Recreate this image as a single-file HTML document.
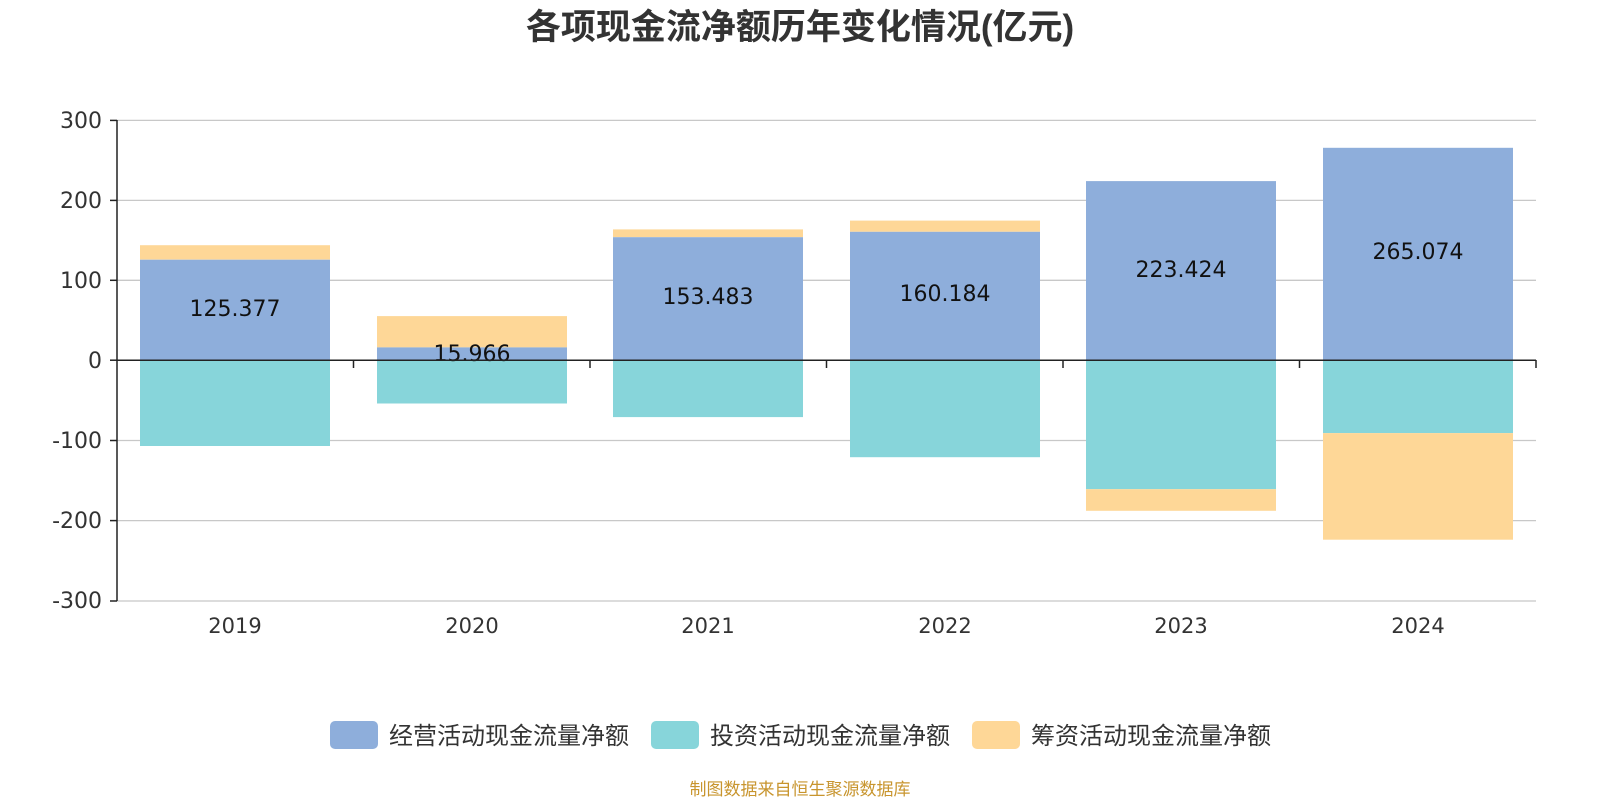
<!DOCTYPE html>
<html><head><meta charset="utf-8"><style>body{margin:0;background:#fff}svg{display:block}text{font-family:"Liberation Sans","Noto Sans CJK SC",sans-serif}.n text{font-family:"DejaVu Sans",sans-serif}</style></head>
<body>
<svg width="1600" height="800" xmlns="http://www.w3.org/2000/svg">
<text x="800" y="39" text-anchor="middle" font-size="35" font-weight="bold" fill="#333">各项现金流净额历年变化情况(亿元)</text>
<g stroke="#c8c8c8" stroke-width="1.3">
<line x1="117" y1="120.4" x2="1536" y2="120.4"/>
<line x1="117" y1="200.4" x2="1536" y2="200.4"/>
<line x1="117" y1="280.3" x2="1536" y2="280.3"/>
<line x1="117" y1="440.5" x2="1536" y2="440.5"/>
<line x1="117" y1="520.6" x2="1536" y2="520.6"/>
<line x1="117" y1="601" x2="1536" y2="601"/>
</g>
<g class="n" font-size="22" fill="#333" text-anchor="end">
<text x="102" y="128">300</text><text x="102" y="208">200</text><text x="102" y="288">100</text>
<text x="102" y="368">0</text><text x="102" y="448">-100</text><text x="102" y="528">-200</text><text x="102" y="608">-300</text>
</g>
<g>
<rect x="140" y="245.2" width="190" height="14.4" fill="#fed797"/>
<rect x="140" y="259.7" width="190" height="100.5" fill="#8eaedb"/>
<rect x="140" y="360.2" width="190" height="85.8" fill="#87d5da"/>
<rect x="377" y="316.1" width="190" height="31.3" fill="#fed797"/>
<rect x="377" y="347.4" width="190" height="12.8" fill="#8eaedb"/>
<rect x="377" y="360.2" width="190" height="43.3" fill="#87d5da"/>
<rect x="613" y="229.4" width="190" height="7.8" fill="#fed797"/>
<rect x="613" y="237.2" width="190" height="123" fill="#8eaedb"/>
<rect x="613" y="360.2" width="190" height="56.9" fill="#87d5da"/>
<rect x="850" y="220.6" width="190" height="11.2" fill="#fed797"/>
<rect x="850" y="231.8" width="190" height="128.4" fill="#8eaedb"/>
<rect x="850" y="360.2" width="190" height="97" fill="#87d5da"/>
<rect x="1086" y="181.1" width="190" height="179.1" fill="#8eaedb"/>
<rect x="1086" y="360.2" width="190" height="129" fill="#87d5da"/>
<rect x="1086" y="489.2" width="190" height="21.6" fill="#fed797"/>
<rect x="1323" y="147.8" width="190" height="212.4" fill="#8eaedb"/>
<rect x="1323" y="360.2" width="190" height="72.9" fill="#87d5da"/>
<rect x="1323" y="433.1" width="190" height="106.6" fill="#fed797"/>
</g>
<g class="n" font-size="22" fill="#111" text-anchor="middle">
<text x="235" y="316">125.377</text>
<text x="472" y="361">15.966</text>
<text x="708" y="304">153.483</text>
<text x="945" y="301">160.184</text>
<text x="1181" y="277">223.424</text>
<text x="1418" y="259">265.074</text>
</g>
<g stroke="#222" stroke-width="1.5">
<line x1="117" y1="120" x2="117" y2="601"/>
<line x1="110" y1="120.4" x2="117" y2="120.4"/><line x1="110" y1="200.4" x2="117" y2="200.4"/><line x1="110" y1="280.3" x2="117" y2="280.3"/><line x1="110" y1="360.2" x2="117" y2="360.2"/><line x1="110" y1="440.5" x2="117" y2="440.5"/><line x1="110" y1="520.6" x2="117" y2="520.6"/><line x1="110" y1="601" x2="117" y2="601"/>
<line x1="117" y1="360.2" x2="1536" y2="360.2"/>
<line x1="353.5" y1="360" x2="353.5" y2="368"/><line x1="590" y1="360" x2="590" y2="368"/><line x1="826.5" y1="360" x2="826.5" y2="368"/><line x1="1063" y1="360" x2="1063" y2="368"/><line x1="1299.5" y1="360" x2="1299.5" y2="368"/><line x1="1536" y1="360" x2="1536" y2="368"/>
</g>
<g class="n" font-size="21" fill="#333" text-anchor="middle">
<text x="235" y="633">2019</text><text x="472" y="633">2020</text><text x="708" y="633">2021</text>
<text x="945" y="633">2022</text><text x="1181" y="633">2023</text><text x="1418" y="633">2024</text>
</g>
<rect x="330" y="721" width="48" height="28" rx="5" fill="#8eaedb"/>
<text x="389" y="744" font-size="24" fill="#333">经营活动现金流量净额</text>
<rect x="651" y="721" width="48" height="28" rx="5" fill="#87d5da"/>
<text x="710" y="744" font-size="24" fill="#333">投资活动现金流量净额</text>
<rect x="972" y="721" width="48" height="28" rx="5" fill="#fed797"/>
<text x="1031" y="744" font-size="24" fill="#333">筹资活动现金流量净额</text>
<text x="800" y="795" text-anchor="middle" font-size="17" fill="#c8952e">制图数据来自恒生聚源数据库</text>
</svg>
</body></html>
